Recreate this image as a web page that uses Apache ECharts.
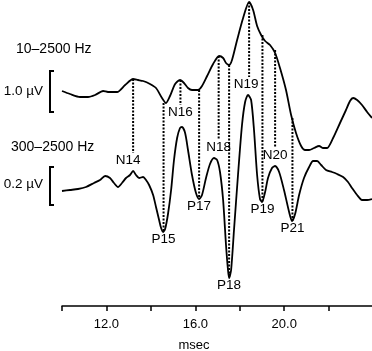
<!DOCTYPE html>
<html>

	<head>
		<meta charset="UTF-8">
		<title></title>
		<style>
			html, body { margin: 0; padding: 0; background: #fff; }
			#myChart { width: 372px; height: 351px; }
		</style>
	</head>

	<body>
		<div id="myChart"></div>
		<script src="https://cdn.jsdelivr.net/npm/echarts@6/dist/echarts.min.js"></script>
		<script>
			// latency (msec) / amplitude (plot units, up = positive)
			var wideMs = [10.00, 10.36, 10.81, 11.17, 11.49, 11.85, 12.07, 12.48, 12.84, 13.20, 13.42, 13.65, 13.96, 14.23, 14.50, 14.68, 14.86, 15.09, 15.31, 15.49, 15.67, 15.85, 16.12, 16.30, 16.53, 16.80, 17.07, 17.25, 17.38, 17.52, 17.65, 17.88, 18.15, 18.42, 18.60, 18.78, 18.96, 19.14, 19.36, 19.59, 19.81, 20.08, 20.31, 20.53, 20.76, 20.94, 21.12, 21.34, 21.57, 21.75, 21.93, 22.20, 22.51, 22.78, 22.96, 23.10, 23.28, 23.50, 23.73, 23.95];
			var wideAmp = [215, 212, 209, 209, 211, 215, 214, 214, 221, 227, 226, 225, 222, 218, 208, 203, 210, 222, 226, 223, 218, 216, 216, 220, 230, 242, 250, 248, 243, 241, 246, 266, 288, 304, 296, 280, 271, 265, 261, 253, 238, 216, 191, 173, 160, 156, 156, 158, 160, 158, 158, 168, 183, 196, 205, 208, 206, 201, 194, 188];

			var narrowMs = [10.00, 10.36, 10.72, 11.08, 11.44, 11.71, 11.94, 12.16, 12.34, 12.52, 12.70, 12.88, 13.06, 13.20, 13.33, 13.47, 13.65, 13.78, 13.92, 14.10, 14.23, 14.37, 14.46, 14.55, 14.64, 14.77, 14.91, 15.04, 15.18, 15.31, 15.40, 15.54, 15.67, 15.85, 16.03, 16.17, 16.30, 16.48, 16.66, 16.84, 16.98, 17.11, 17.25, 17.38, 17.47, 17.52, 17.61, 17.74, 17.92, 18.10, 18.24, 18.37, 18.51, 18.64, 18.78, 18.91, 19.00, 19.14, 19.27, 19.45, 19.59, 19.77, 19.99, 20.22, 20.35, 20.49, 20.67, 20.89, 21.12, 21.30, 21.48, 21.66, 21.88, 22.15, 22.38, 22.65, 22.87, 23.05, 23.28, 23.50, 23.73, 23.95];
			var narrowAmp = [115, 116, 117, 119, 123, 126, 130, 128, 123, 119, 123, 128, 131, 135, 131, 128, 129, 126, 121, 111, 99, 86, 78, 74, 77, 92, 116, 146, 168, 178, 179, 173, 156, 131, 113, 107, 111, 128, 142, 148, 146, 134, 106, 61, 36, 28, 36, 76, 131, 181, 204, 211, 206, 176, 131, 107, 104, 114, 128, 138, 140, 134, 116, 94, 85, 92, 111, 128, 139, 145, 145, 141, 136, 134, 132, 129, 124, 118, 111, 106, 106, 107];

			// peak labels and the dotted guide lines joining the two traces
			var peakNames = ["N14", "P15", "N16", "P17", "N18", "P18", "N19", "P19", "N20", "P21"];
			var peakMs = [13.20, 14.57, 15.33, 16.17, 17.05, 17.52, 18.42, 19.02, 19.59, 20.37];
			var guideTop = [227, 203, 226, 216, 250, 241, 304, 271, 256, 188];
			var guideBottom = [153, 74, 201, 107, 166, 28, 229, 104, 158, 85];

			var xTicks = [12, 16, 20];

			var font = '"Liberation Sans", Arial, sans-serif';
			var myChart = echarts.init(document.getElementById("myChart"));

			function pairs(xs, ys) {
				var out = [];
				for (var i = 0; i < xs.length; i++) out.push([xs[i], ys[i]]);
				return out;
			}

			function traceSeries(xs, ys) {
				return {
					type: 'line',
					data: pairs(xs, ys),
					showSymbol: false,
					smooth: 0.25,
					silent: true,
					lineStyle: { color: '#000', width: 1.8 },
					z: 3
				};
			}

			var series = [traceSeries(wideMs, wideAmp), traceSeries(narrowMs, narrowAmp)];
			var labelData = [];
			for (var i = 0; i < peakNames.length; i++) {
				series.push({
					type: 'line',
					data: [[peakMs[i], guideTop[i]], [peakMs[i], guideBottom[i]]],
					showSymbol: false,
					silent: true,
					lineStyle: { color: '#000', width: 2, type: [2, 1.5] },
					z: 2
				});
				labelData.push({
					value: [peakMs[i], guideBottom[i]],
					name: peakNames[i],
					label: { offset: [peakNames[i] == "N14" ? -5 : (peakNames[i] == "N19" ? -3 : 0), 0] }
				});
			}
			series.push({
				type: 'scatter',
				data: labelData,
				symbolSize: 1,
				silent: true,
				itemStyle: { color: 'rgba(255,255,255,0)', opacity: 1 },
				label: {
					show: true,
					position: 'bottom',
					distance: 0,
					formatter: '{b}',
					color: '#000',
					opacity: 1,
					fontSize: 13.5,
					fontFamily: font
				}
			});

			function bracket(x, y1, y2) {
				return {
					type: 'polyline',
					shape: { points: [[x + 4, y1], [x, y1], [x, y2], [x + 4, y2]] },
					style: { stroke: '#000', lineWidth: 2, fill: null }
				};
			}

			function text(t, x, y, align, size) {
				return {
					type: 'text',
					x: x,
					y: y,
					style: {
						text: t,
						fill: '#000',
						font: size + 'px ' + font,
						textAlign: align,
						textVerticalAlign: 'middle'
					}
				};
			}

			myChart.setOption({
				animation: false,
				grid: { left: 62, right: 0, top: 0, bottom: 45 },
				xAxis: {
					type: 'value',
					min: 10,
					max: 23.95,
					interval: 2,
					splitLine: { show: false },
					axisLine: { lineStyle: { color: '#000', width: 1.5 } },
					axisTick: { length: 5, lineStyle: { color: '#000', width: 1.5 } },
					axisLabel: {
						margin: 12,
						color: '#000',
						fontSize: 13,
						fontFamily: font,
						showMaxLabel: false,
						formatter: function(v) {
							return xTicks.indexOf(v) >= 0 ? v.toFixed(1) : '';
						}
					}
				},
				yAxis: {
					type: 'value',
					min: 0,
					max: 306,
					show: false
				},
				graphic: [
					text('10\u20132500 Hz', 16, 49, 'left', 14),
					text('1.0 \u00b5V', 43, 91, 'right', 13.5),
					bracket(50, 71, 112),
					text('300\u20132500 Hz', 11, 147, 'left', 14),
					text('0.2 \u00b5V', 43, 184, 'right', 13.5),
					bracket(50, 167, 205),
					text('msec', 194, 345, 'center', 13)
				],
				series: series
			});
		</script>
	</body>

</html>
